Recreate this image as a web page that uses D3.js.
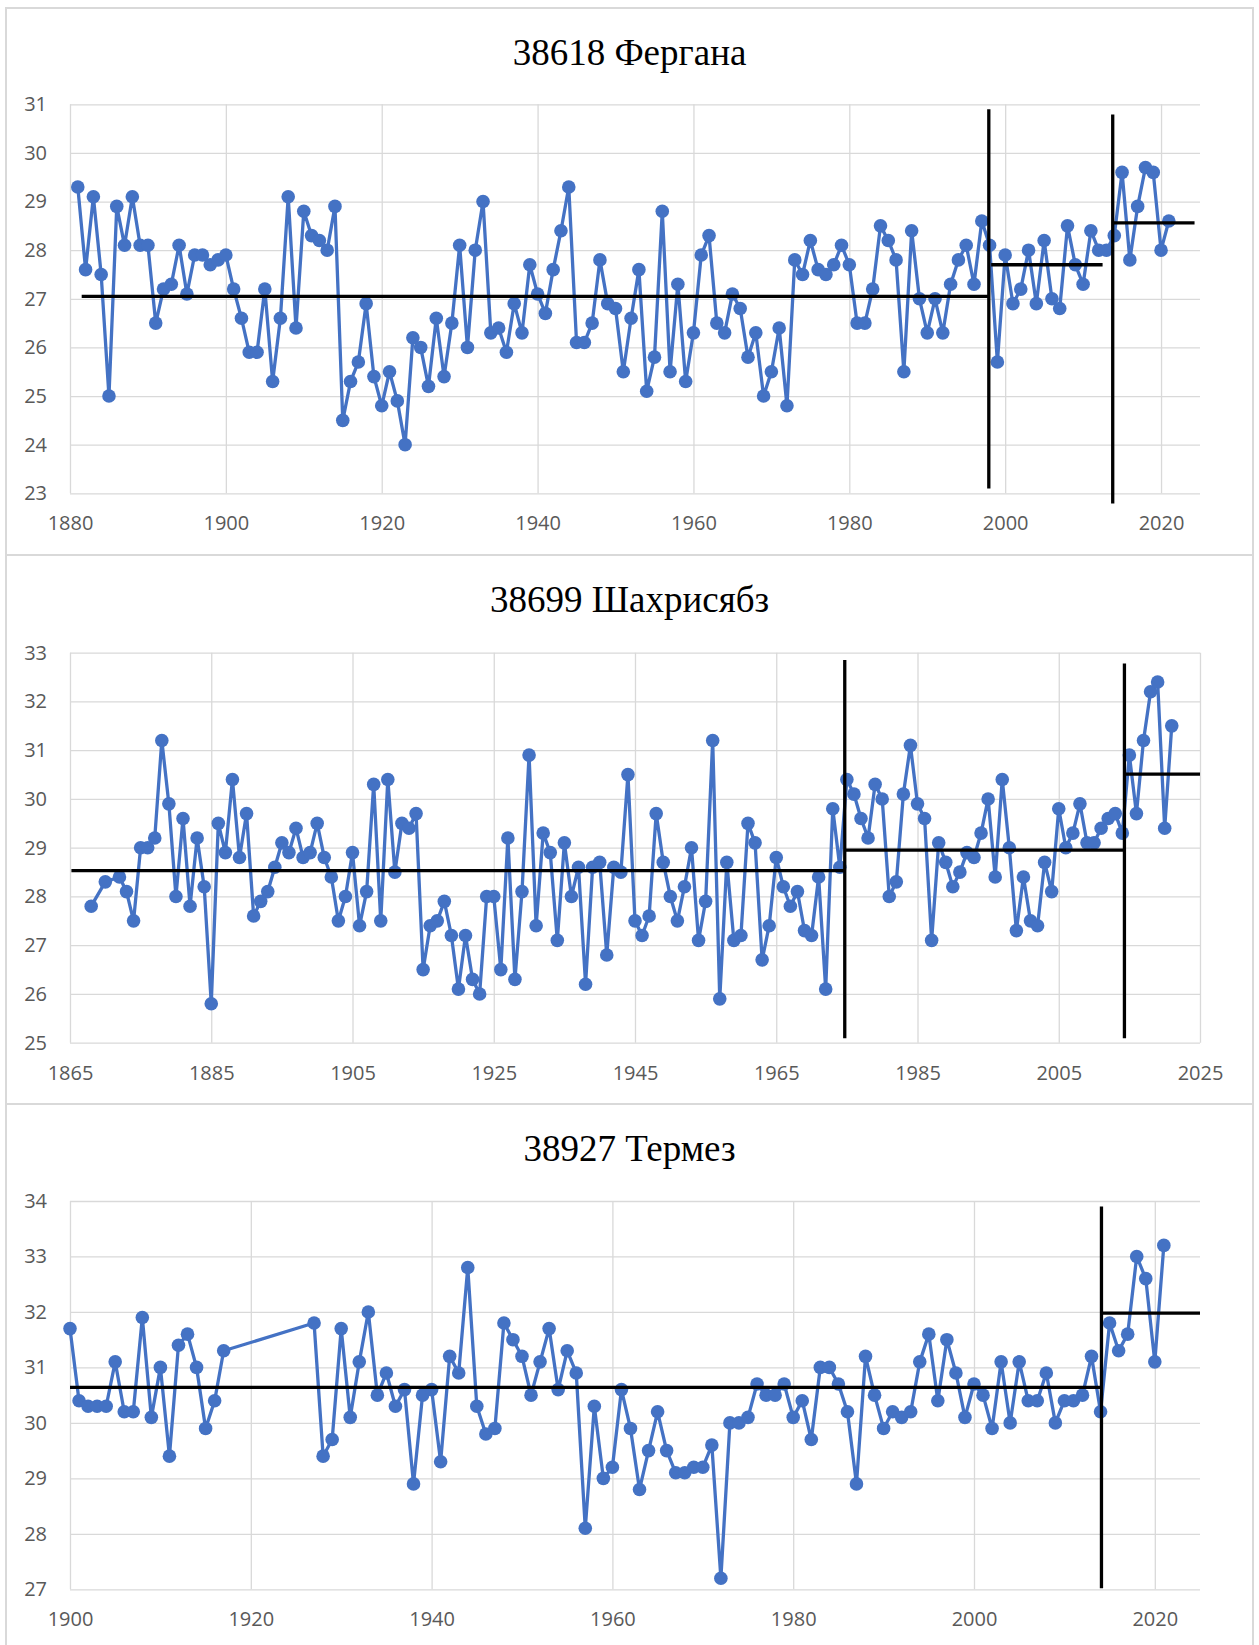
<!DOCTYPE html>
<html lang="ru">
<head>
    <meta charset="UTF-8">
    <title>38618 Фергана, 38699 Шахрисябз, 38927 Термез</title>
    <script src="https://cdn.jsdelivr.net/npm/d3@7"></script>
    <style>
        body {
            margin: 0;
            background: #fff;
        }

        .frame {
            fill: #fff;
            stroke: #d9d9d9;
            stroke-width: 2px;
        }

        .title {
            font-family: 'Liberation Serif', 'Times New Roman', serif;
            font-size: 37px;
            fill: #000;
        }

        .axis text {
            font-family: 'Open Sans', 'Noto Sans', sans-serif;
            font-size: 20px;
            fill: #595959;
        }

        .axis line {
            stroke: #d9d9d9;
            stroke-width: 1.3px;
        }

        .axis .domain {
            display: none;
        }

        .series {
            fill: none;
            stroke: #4472c4;
            stroke-width: 3.3px;
            stroke-linejoin: round;
        }

        .dot {
            fill: #4472c4;
        }

        .mark {
            stroke: #000;
            stroke-width: 3.3px;
        }
    </style>
</head>
<body>
<svg width="1259" height="1645"></svg>

<script>

    // 38618 Фергана
    var fergYears = [
        1881, 1882, 1883, 1884, 1885, 1886, 1887, 1888, 1889, 1890,
        1891, 1892, 1893, 1894, 1895, 1896, 1897, 1898, 1899, 1900,
        1901, 1902, 1903, 1904, 1905, 1906, 1907, 1908, 1909, 1910,
        1911, 1912, 1913, 1914, 1915, 1916, 1917, 1918, 1919, 1920,
        1921, 1922, 1923, 1924, 1925, 1926, 1927, 1928, 1929, 1930,
        1931, 1932, 1933, 1934, 1935, 1936, 1937, 1938, 1939, 1940,
        1941, 1942, 1943, 1944, 1945, 1946, 1947, 1948, 1949, 1950,
        1951, 1952, 1953, 1954, 1955, 1956, 1957, 1958, 1959, 1960,
        1961, 1962, 1963, 1964, 1965, 1966, 1967, 1968, 1969, 1970,
        1971, 1972, 1973, 1974, 1975, 1976, 1977, 1978, 1979, 1980,
        1981, 1982, 1983, 1984, 1985, 1986, 1987, 1988, 1989, 1990,
        1991, 1992, 1993, 1994, 1995, 1996, 1997, 1998, 1999, 2000,
        2001, 2002, 2003, 2004, 2005, 2006, 2007, 2008, 2009, 2010,
        2011, 2012, 2013, 2014, 2015, 2016, 2017, 2018, 2019, 2020,
        2021
    ];
    var fergTemp = [
        29.3, 27.6, 29.1, 27.5, 25.0, 28.9, 28.1, 29.1, 28.1, 28.1,
        26.5, 27.2, 27.3, 28.1, 27.1, 27.9, 27.9, 27.7, 27.8, 27.9,
        27.2, 26.6, 25.9, 25.9, 27.2, 25.3, 26.6, 29.1, 26.4, 28.8,
        28.3, 28.2, 28.0, 28.9, 24.5, 25.3, 25.7, 26.9, 25.4, 24.8,
        25.5, 24.9, 24.0, 26.2, 26.0, 25.2, 26.6, 25.4, 26.5, 28.1,
        26.0, 28.0, 29.0, 26.3, 26.4, 25.9, 26.9, 26.3, 27.7, 27.1,
        26.7, 27.6, 28.4, 29.3, 26.1, 26.1, 26.5, 27.8, 26.9, 26.8,
        25.5, 26.6, 27.6, 25.1, 25.8, 28.8, 25.5, 27.3, 25.3, 26.3,
        27.9, 28.3, 26.5, 26.3, 27.1, 26.8, 25.8, 26.3, 25.0, 25.5,
        26.4, 24.8, 27.8, 27.5, 28.2, 27.6, 27.5, 27.7, 28.1, 27.7,
        26.5, 26.5, 27.2, 28.5, 28.2, 27.8, 25.5, 28.4, 27.0, 26.3,
        27.0, 26.3, 27.3, 27.8, 28.1, 27.3, 28.6, 28.1, 25.7, 27.9,
        26.9, 27.2, 28.0, 26.9, 28.2, 27.0, 26.8, 28.5, 27.7, 27.3,
        28.4, 28.0, 28.0, 28.3, 29.6, 27.8, 28.9, 29.7, 29.6, 28.0,
        28.6
    ];
    var fergTicksX = [1880, 1900, 1920, 1940, 1960, 1980, 2000, 2020];
    var fergTicksY = [23, 24, 25, 26, 27, 28, 29, 30, 31];
    var fergMeans = [
        {from: 1881.5, to: 1997.9, value: 27.05},
        {from: 1998.2, to: 2012.5, value: 27.7},
        {from: 2013.8, to: 2024.3, value: 28.56}
    ];
    var fergBreaks = [
        {year: 1997.9, from: 23.1, to: 30.9},
        {year: 2013.8, from: 22.79, to: 30.79}
    ];

    // 38699 Шахрисябз
    var shahYears = [
        1868, 1870,
        1872, 1873, 1874, 1875, 1876, 1877, 1878, 1879, 1880, 1881,
        1882, 1883, 1884, 1885, 1886, 1887, 1888, 1889, 1890, 1891,
        1892, 1893, 1894, 1895, 1896, 1897, 1898, 1899, 1900, 1901,
        1902, 1903, 1904, 1905, 1906, 1907, 1908, 1909, 1910, 1911,
        1912, 1913, 1914, 1915, 1916, 1917, 1918, 1919, 1920, 1921,
        1922, 1923, 1924, 1925, 1926, 1927, 1928, 1929, 1930, 1931,
        1932, 1933, 1934, 1935, 1936, 1937, 1938, 1939, 1940, 1941,
        1942, 1943, 1944, 1945, 1946, 1947, 1948, 1949, 1950, 1951,
        1952, 1953, 1954, 1955, 1956, 1957, 1958, 1959, 1960, 1961,
        1962, 1963, 1964, 1965, 1966, 1967, 1968, 1969, 1970, 1971,
        1972, 1973, 1974, 1975, 1976, 1977, 1978, 1979, 1980, 1981,
        1982, 1983, 1984, 1985, 1986, 1987, 1988, 1989, 1990, 1991,
        1992, 1993, 1994, 1995, 1996, 1997, 1998, 1999, 2000, 2001,
        2002, 2003, 2004, 2005, 2006, 2007, 2008, 2009, 2010, 2011,
        2012, 2013, 2014, 2015, 2016, 2017, 2018, 2019, 2020, 2021
    ];
    var shahTemp = [
        27.8, 28.3,
        28.4, 28.1, 27.5, 29.0, 29.0, 29.2, 31.2, 29.9, 28.0, 29.6,
        27.8, 29.2, 28.2, 25.8, 29.5, 28.9, 30.4, 28.8, 29.7, 27.6,
        27.9, 28.1, 28.6, 29.1, 28.9, 29.4, 28.8, 28.9, 29.5, 28.8,
        28.4, 27.5, 28.0, 28.9, 27.4, 28.1, 30.3, 27.5, 30.4, 28.5,
        29.5, 29.4, 29.7, 26.5, 27.4, 27.5, 27.9, 27.2, 26.1, 27.2,
        26.3, 26.0, 28.0, 28.0, 26.5, 29.2, 26.3, 28.1, 30.9, 27.4,
        29.3, 28.9, 27.1, 29.1, 28.0, 28.6, 26.2, 28.6, 28.7, 26.8,
        28.6, 28.5, 30.5, 27.5, 27.2, 27.6, 29.7, 28.7, 28.0, 27.5,
        28.2, 29.0, 27.1, 27.9, 31.2, 25.9, 28.7, 27.1, 27.2, 29.5,
        29.1, 26.7, 27.4, 28.8, 28.2, 27.8, 28.1, 27.3, 27.2, 28.4,
        26.1, 29.8, 28.6, 30.4, 30.1, 29.6, 29.2, 30.3, 30.0, 28.0,
        28.3, 30.1, 31.1, 29.9, 29.6, 27.1, 29.1, 28.7, 28.2, 28.5,
        28.9, 28.8, 29.3, 30.0, 28.4, 30.4, 29.0, 27.3, 28.4, 27.5,
        27.4, 28.7, 28.1, 29.8, 29.0, 29.3, 29.9, 29.1, 29.1, 29.4,
        29.6, 29.7, 29.3, 30.9, 29.7, 31.2, 32.2, 32.4, 29.4, 31.5
    ];
    var shahTicksX = [1865, 1885, 1905, 1925, 1945, 1965, 1985, 2005, 2025];
    var shahTicksY = [25, 26, 27, 28, 29, 30, 31, 32, 33];
    var shahMeans = [
        {from: 1865.2, to: 1974.7, value: 28.53},
        {from: 1974.7, to: 2014.3, value: 28.95},
        {from: 2014.3, to: 2025, value: 30.51}
    ];
    var shahBreaks = [
        {year: 1974.7, from: 25.09, to: 32.85},
        {year: 2014.3, from: 25.09, to: 32.78}
    ];

    // 38927 Термез
    var termYears = [
        1900, 1901, 1902, 1903, 1904, 1905, 1906, 1907, 1908, 1909,
        1910, 1911, 1912, 1913, 1914, 1915, 1916, 1917,
        1927, 1928, 1929, 1930, 1931, 1932, 1933, 1934, 1935, 1936,
        1937, 1938, 1939, 1940, 1941, 1942, 1943, 1944, 1945, 1946,
        1947, 1948, 1949, 1950, 1951, 1952, 1953, 1954, 1955, 1956,
        1957, 1958, 1959, 1960, 1961, 1962, 1963, 1964, 1965, 1966,
        1967, 1968, 1969, 1970, 1971, 1972, 1973, 1974, 1975, 1976,
        1977, 1978, 1979, 1980, 1981, 1982, 1983, 1984, 1985, 1986,
        1987, 1988, 1989, 1990, 1991, 1992, 1993, 1994, 1995, 1996,
        1997, 1998, 1999, 2000, 2001, 2002, 2003, 2004, 2005, 2006,
        2007, 2008, 2009, 2010, 2011, 2012, 2013, 2014, 2015, 2016,
        2017, 2018, 2019, 2020, 2021
    ];
    var termTemp = [
        31.7, 30.4, 30.3, 30.3, 30.3, 31.1, 30.2, 30.2, 31.9, 30.1,
        31.0, 29.4, 31.4, 31.6, 31.0, 29.9, 30.4, 31.3,
        31.8, 29.4, 29.7, 31.7, 30.1, 31.1, 32.0, 30.5, 30.9, 30.3,
        30.6, 28.9, 30.5, 30.6, 29.3, 31.2, 30.9, 32.8, 30.3, 29.8,
        29.9, 31.8, 31.5, 31.2, 30.5, 31.1, 31.7, 30.6, 31.3, 30.9,
        28.1, 30.3, 29.0, 29.2, 30.6, 29.9, 28.8, 29.5, 30.2, 29.5,
        29.1, 29.1, 29.2, 29.2, 29.6, 27.2, 30.0, 30.0, 30.1, 30.7,
        30.5, 30.5, 30.7, 30.1, 30.4, 29.7, 31.0, 31.0, 30.7, 30.2,
        28.9, 31.2, 30.5, 29.9, 30.2, 30.1, 30.2, 31.1, 31.6, 30.4,
        31.5, 30.9, 30.1, 30.7, 30.5, 29.9, 31.1, 30.0, 31.1, 30.4,
        30.4, 30.9, 30.0, 30.4, 30.4, 30.5, 31.2, 30.2, 31.8, 31.3,
        31.6, 33.0, 32.6, 31.1, 33.2
    ];
    var termTicksX = [1900, 1920, 1940, 1960, 1980, 2000, 2020];
    var termTicksY = [27, 28, 29, 30, 31, 32, 33, 34];
    var termMeans = [
        {from: 1900, to: 2014.1, value: 30.64},
        {from: 2014.1, to: 2025, value: 31.98}
    ];
    var termBreaks = [
        {year: 2014.1, from: 27.02, to: 33.9}
    ];


    var svg = d3.select('svg');

    var left = 70;
    var right = 1200;

    var panels = [
        {
            title: '38618 Фергана', top: 8, bottom: 555, plotTop: 104.3, plotBottom: 493.3,
            xDomain: [1880, 2025], years: fergYears, temp: fergTemp,
            ticksX: fergTicksX, ticksY: fergTicksY, means: fergMeans, breaks: fergBreaks
        },
        {
            title: '38699 Шахрисябз', top: 555, bottom: 1104, plotTop: 652.7, plotBottom: 1042.7,
            xDomain: [1865, 2025], years: shahYears, temp: shahTemp,
            ticksX: shahTicksX, ticksY: shahTicksY, means: shahMeans, breaks: shahBreaks
        },
        {
            title: '38927 Термез', top: 1104, bottom: 1660, plotTop: 1201, plotBottom: 1589.3,
            xDomain: [1900, 2025], years: termYears, temp: termTemp,
            ticksX: termTicksX, ticksY: termTicksY, means: termMeans, breaks: termBreaks
        }
    ];

    function drawPanel(p) {
        var g = svg.append('g');

        g.append('rect')
            .attr('class', 'frame')
            .attr('x', 6)
            .attr('y', p.top)
            .attr('width', 1247)
            .attr('height', p.bottom - p.top);

        g.append('text')
            .attr('class', 'title')
            .attr('x', 629.5)
            .attr('y', p.top + 57)
            .attr('text-anchor', 'middle')
            .text(p.title);

        var x = d3.scaleLinear().domain(p.xDomain).range([left, right]);
        var y = d3.scaleLinear()
            .domain(d3.extent(p.ticksY))
            .range([p.plotBottom, p.plotTop]);

        g.append('g')
            .attr('class', 'axis')
            .attr('transform', 'translate(' + left + ',0)')
            .call(d3.axisLeft(y)
                .tickValues(p.ticksY)
                .tickFormat(d3.format('d'))
                .tickSize(-(right - left))
                .tickPadding(23));

        g.append('g')
            .attr('class', 'axis')
            .attr('transform', 'translate(0,' + p.plotBottom + ')')
            .call(d3.axisBottom(x)
                .tickValues(p.ticksX)
                .tickFormat(d3.format('d'))
                .tickSize(-(p.plotBottom - p.plotTop))
                .tickPadding(23));

        var points = p.years.map(function (yr, i) {
            return {year: yr, t: p.temp[i]};
        });

        var line = d3.line()
            .x(function (d) { return x(d.year); })
            .y(function (d) { return y(d.t); });

        g.append('path')
            .datum(points)
            .attr('class', 'series')
            .attr('d', line);

        g.selectAll('.dot')
            .data(points)
            .enter()
            .append('circle')
            .attr('class', 'dot')
            .attr('cx', function (d) { return x(d.year); })
            .attr('cy', function (d) { return y(d.t); })
            .attr('r', 6.8);

        g.selectAll('.mean')
            .data(p.means)
            .enter()
            .append('line')
            .attr('class', 'mark mean')
            .attr('x1', function (d) { return x(d.from); })
            .attr('x2', function (d) { return x(d.to); })
            .attr('y1', function (d) { return y(d.value); })
            .attr('y2', function (d) { return y(d.value); });

        g.selectAll('.brk')
            .data(p.breaks)
            .enter()
            .append('line')
            .attr('class', 'mark brk')
            .attr('x1', function (d) { return x(d.year); })
            .attr('x2', function (d) { return x(d.year); })
            .attr('y1', function (d) { return y(d.from); })
            .attr('y2', function (d) { return y(d.to); });
    }

    panels.forEach(drawPanel);

</script>

</body>
</html>
